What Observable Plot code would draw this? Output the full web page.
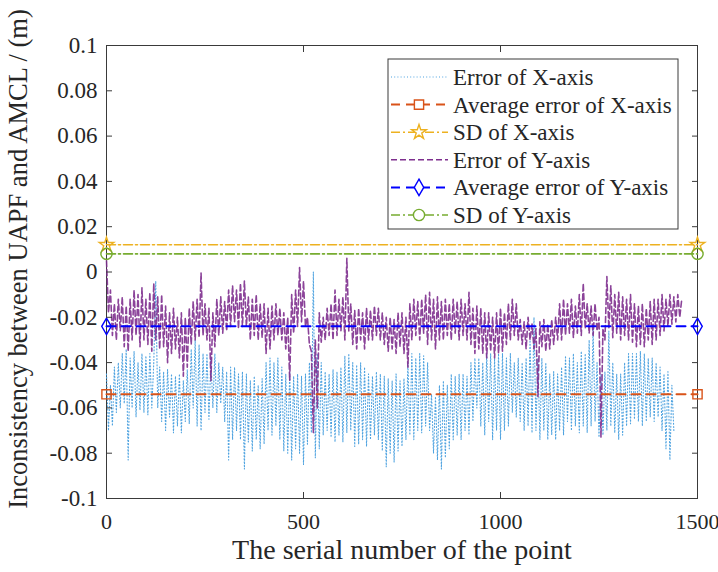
<!DOCTYPE html>
<html>
<head>
<meta charset="utf-8">
<script src="https://cdn.jsdelivr.net/npm/d3@7"></script>
<script src="https://cdn.jsdelivr.net/npm/@observablehq/plot@0.6"></script>
<style>
  html, body { margin: 0; padding: 0; background: #fff; }
  #chart { position: relative; width: 718px; height: 572px; }
</style>
</head>
<body>
<div id="chart"></div>
<script>
// ---------- data ----------
const xTicks = [0, 500, 1000, 1500];
const yTicks = [-0.1, -0.08, -0.06, -0.04, -0.02, 0, 0.02, 0.04, 0.06, 0.08, 0.1];
const sampleStep = 5; // serial-number spacing of the sampled points below

const errorX = [
  -0.045,-0.070,-0.050,-0.068,-0.042,-0.062,-0.040,-0.060,-0.036,-0.058,
  -0.034,-0.083,-0.038,-0.060,-0.035,-0.064,-0.040,-0.061,-0.036,-0.062,
  -0.037,-0.063,-0.036,-0.060,-0.040,-0.004,-0.060,-0.042,-0.066,-0.044,
  -0.070,-0.043,-0.064,-0.045,-0.071,-0.046,-0.068,-0.045,-0.071,-0.048,
  -0.066,-0.043,-0.067,-0.034,-0.060,-0.030,-0.068,-0.032,-0.070,-0.036,
  -0.062,-0.036,-0.065,-0.038,-0.060,-0.036,-0.062,-0.040,-0.058,-0.042,
  -0.066,-0.044,-0.083,-0.042,-0.074,-0.042,-0.070,-0.045,-0.074,-0.044,
  -0.087,-0.045,-0.075,-0.048,-0.079,-0.046,-0.074,-0.050,-0.078,-0.047,
  -0.076,-0.040,-0.070,-0.038,-0.072,-0.040,-0.068,-0.038,-0.074,-0.042,
  -0.079,-0.045,-0.080,-0.044,-0.083,-0.046,-0.078,-0.045,-0.080,-0.046,
  -0.085,-0.045,-0.076,-0.040,-0.071,0.000,-0.082,-0.036,-0.078,-0.040,
  -0.072,-0.044,-0.070,-0.045,-0.073,-0.043,-0.075,-0.044,-0.072,-0.042,
  -0.075,-0.037,-0.071,-0.036,-0.070,-0.040,-0.077,-0.041,-0.076,-0.040,
  -0.074,-0.042,-0.077,-0.045,-0.074,-0.046,-0.072,-0.044,-0.074,-0.045,
  -0.079,-0.046,-0.086,-0.047,-0.080,-0.048,-0.084,-0.045,-0.079,-0.048,
  -0.077,-0.047,-0.074,-0.040,-0.072,-0.036,-0.074,-0.038,-0.070,-0.036,
  -0.071,-0.037,-0.068,-0.040,-0.070,-0.054,-0.080,-0.055,-0.083,-0.050,
  -0.087,-0.048,-0.082,-0.050,-0.078,-0.045,-0.074,-0.046,-0.072,-0.045,
  -0.074,-0.045,-0.070,-0.046,-0.072,-0.040,-0.066,-0.038,-0.060,-0.038,
  -0.068,-0.040,-0.072,-0.036,-0.066,-0.036,-0.074,-0.038,-0.070,-0.036,
  -0.074,-0.036,-0.070,-0.038,-0.068,-0.036,-0.062,-0.040,-0.064,-0.038,
  -0.066,-0.040,-0.070,-0.038,-0.068,-0.030,-0.071,-0.020,-0.070,-0.038,
  -0.074,-0.038,-0.070,-0.040,-0.074,-0.045,-0.072,-0.044,-0.074,-0.045,
  -0.070,-0.042,-0.072,-0.037,-0.066,-0.038,-0.070,-0.036,-0.068,-0.040,
  -0.071,-0.035,-0.068,-0.036,-0.071,-0.030,-0.068,-0.025,-0.066,-0.040,
  -0.073,-0.045,-0.072,-0.044,-0.070,-0.026,-0.068,-0.040,-0.071,-0.045,
  -0.074,-0.045,-0.072,-0.040,-0.068,-0.036,-0.067,-0.036,-0.065,-0.036,
  -0.066,-0.035,-0.068,-0.036,-0.066,-0.038,-0.064,-0.038,-0.066,-0.040,
  -0.064,-0.042,-0.070,-0.045,-0.078,-0.044,-0.083,-0.050,-0.070
];

const errorY = [
  0.005,-0.018,-0.008,-0.028,-0.014,-0.030,-0.012,-0.026,-0.011,-0.033,
  -0.015,-0.035,-0.012,-0.030,-0.008,-0.028,-0.010,-0.033,-0.007,-0.030,
  -0.012,-0.032,-0.009,-0.035,-0.005,-0.030,-0.011,-0.034,-0.010,-0.033,
  -0.015,-0.040,-0.018,-0.036,-0.016,-0.034,-0.020,-0.038,-0.018,-0.046,
  -0.020,-0.042,-0.016,-0.032,-0.013,-0.030,-0.012,-0.029,-0.0005,-0.028,
  -0.014,-0.030,-0.016,-0.048,-0.018,-0.033,-0.012,-0.028,-0.011,-0.027,
  -0.013,-0.026,-0.008,-0.024,-0.006,-0.022,-0.008,-0.025,-0.005,-0.024,
  -0.004,-0.024,-0.011,-0.030,-0.012,-0.028,-0.010,-0.030,-0.014,-0.029,
  -0.014,-0.036,-0.016,-0.034,-0.015,-0.030,-0.014,-0.028,-0.016,-0.030,
  -0.018,-0.034,-0.020,-0.048,-0.010,-0.027,-0.008,-0.024,0.002,-0.022,
  -0.004,-0.024,-0.020,-0.032,-0.035,-0.071,-0.030,-0.060,-0.018,-0.031,
  -0.020,-0.030,-0.016,-0.028,-0.014,-0.030,-0.008,-0.028,-0.012,-0.026,
  -0.011,-0.030,0.006,-0.026,-0.014,-0.032,-0.017,-0.034,-0.016,-0.030,
  -0.018,-0.034,-0.016,-0.030,-0.017,-0.030,-0.015,-0.028,-0.016,-0.030,
  -0.018,-0.032,-0.020,-0.035,-0.020,-0.034,-0.021,-0.036,-0.018,-0.033,
  -0.018,-0.036,-0.020,-0.042,-0.014,-0.030,-0.012,-0.028,-0.013,-0.030,
  -0.012,-0.027,-0.010,-0.032,-0.009,-0.030,-0.012,-0.034,-0.011,-0.030,
  -0.013,-0.030,-0.012,-0.028,-0.014,-0.030,-0.012,-0.027,-0.013,-0.030,
  -0.012,-0.028,-0.014,-0.030,-0.009,-0.032,-0.016,-0.036,-0.015,-0.034,
  -0.016,-0.036,-0.018,-0.038,-0.018,-0.035,-0.020,-0.038,-0.018,-0.036,
  -0.016,-0.035,-0.018,-0.032,-0.014,-0.030,-0.012,-0.028,-0.014,-0.030,
  -0.021,-0.032,-0.022,-0.034,-0.020,-0.030,-0.023,-0.034,-0.025,-0.055,
  -0.022,-0.033,-0.021,-0.035,-0.023,-0.034,-0.021,-0.032,-0.020,-0.030,
  -0.014,-0.030,-0.012,-0.028,-0.014,-0.027,-0.012,-0.029,-0.015,-0.027,
  -0.010,-0.028,-0.005,-0.025,-0.014,-0.027,-0.015,-0.028,-0.014,-0.026,
  -0.020,-0.073,-0.025,-0.030,-0.002,-0.025,-0.006,-0.029,-0.010,-0.027,
  -0.009,-0.030,-0.011,-0.028,-0.012,-0.030,-0.010,-0.031,-0.014,-0.033,
  -0.015,-0.032,-0.014,-0.033,-0.016,-0.030,-0.013,-0.032,-0.012,-0.030,
  -0.012,-0.028,-0.010,-0.026,-0.012,-0.024,-0.010,-0.023,-0.011,-0.022,
  -0.010,-0.020,-0.012
];

const averageErrorX = -0.054;
const sdX = 0.012;
const averageErrorY = -0.024;
const sdY = 0.008;
const levelEnds = [0, 1500];

const seriesNames = ["Error of X-axis", "Average error of X-axis", "SD of X-axis",
                     "Error of Y-axis", "Average error of Y-axis", "SD of Y-axis"];

// ---------- styles ----------
const styles = [
  {color: "#4fa3e0", dash: "1,2.2", width: 1.1, symbol: null},
  {color: "#D95319", dash: "9,6", width: 2, symbol: "square"},
  {color: "#EDB120", dash: "9,3,2,3", width: 1.6, symbol: "star"},
  {color: "#7E2F8E", dash: "6,3", width: 1.6, symbol: null},
  {color: "#0000FF", dash: "9,6", width: 2, symbol: "diamond"},
  {color: "#77AC30", dash: "9,3,2,3", width: 1.6, symbol: "circle"}
];
const markerR = {square: 5.2, star: 4.6, diamond: 5.0, circle: 5.6};
const fontFamily = "'Liberation Serif', 'Times New Roman', serif";

const ptsX = errorX.map((v, i) => ({x: i * sampleStep, y: v}));
const ptsY = errorY.map((v, i) => ({x: i * sampleStep, y: v}));
const level = v => levelEnds.map(x => ({x, y: v}));
const levels = [null, averageErrorX, sdX, null, averageErrorY, sdY];

const fmt = d => String(+d.toFixed(2)).replace("\u2212", "-");
const axisColor = "#3a3a3a";
const textColor = "#262626";

const marks = [
  Plot.frame({stroke: axisColor, strokeWidth: 1}),
  Plot.line(ptsX, {x: "x", y: "y", stroke: styles[0].color, strokeWidth: styles[0].width, strokeDasharray: styles[0].dash}),
  Plot.line(ptsY, {x: "x", y: "y", stroke: styles[3].color, strokeWidth: styles[3].width, strokeDasharray: styles[3].dash, strokeOpacity: 0.9})
];
[1, 2, 4, 5].forEach(k => {
  const s = styles[k];
  marks.push(Plot.line(level(levels[k]), {x: "x", y: "y", stroke: s.color, strokeWidth: s.width, strokeDasharray: s.dash}));
  marks.push(Plot.dot(level(levels[k]), {x: "x", y: "y", symbol: () => s.symbol, r: markerR[s.symbol], stroke: s.color, fill: "none", strokeWidth: 1.4}));
});
// axes: inward ticks on all four sides (outward ticks shifted inside), labels on left and bottom
marks.push(
  Plot.axisX(xTicks, {anchor: "bottom", tickSize: 6, dy: -6, tickFormat: () => "", label: null, stroke: axisColor}),
  Plot.axisX(xTicks, {anchor: "top", tickSize: 6, dy: 6, tickFormat: () => "", label: null, stroke: axisColor}),
  Plot.axisY(yTicks, {anchor: "left", tickSize: 6, dx: 6, tickFormat: () => "", label: null, stroke: axisColor}),
  Plot.axisY(yTicks, {anchor: "right", tickSize: 6, dx: -6, tickFormat: () => "", label: null, stroke: axisColor}),
  Plot.axisX(xTicks, {anchor: "bottom", tickSize: 0, tickPadding: 15, tickFormat: fmt, label: null, fill: textColor, fontSize: 22}),
  Plot.axisY(yTicks, {anchor: "left", tickSize: 0, tickPadding: 9, tickFormat: fmt, label: null, fill: textColor, fontSize: 23}),
  Plot.text(["The serial number of the point"], {frameAnchor: "bottom", dy: 60, fontSize: 28, fill: textColor}),
  Plot.text(["Inconsistency between UAPF and AMCL / (m)"], {frameAnchor: "left", textAnchor: "middle", rotate: -90, dx: -88, dy: -13, fontSize: 26.5, fill: textColor})
);

const chart = Plot.plot({
  width: 718,
  height: 572,
  marginLeft: 106,
  marginRight: 21,
  marginTop: 45,
  marginBottom: 74,
  x: {domain: [0, 1500], axis: null},
  y: {domain: [-0.1, 0.1], axis: null},
  style: {fontFamily, fontSize: "23px", background: "#fff", overflow: "visible"},
  marks
});
document.getElementById("chart").appendChild(chart);

// ---------- legend ----------
const svg = d3.select(chart);
const lg = svg.append("g").attr("transform", "translate(388,59)");
lg.append("rect").attr("width", 290).attr("height", 170)
  .attr("fill", "#fff").attr("stroke", axisColor).attr("stroke-width", 1);
const symGen = {square: d3.symbolSquare, star: d3.symbolStar, diamond: d3.symbolDiamond, circle: d3.symbolCircle};
seriesNames.forEach((name, i) => {
  const s = styles[i];
  const cy = 18 + i * 27.6;
  const row = lg.append("g").attr("transform", `translate(0,${cy})`);
  row.append("line").attr("x1", 3).attr("x2", 60).attr("y1", 0).attr("y2", 0)
    .attr("stroke", s.color).attr("stroke-width", s.width).attr("stroke-dasharray", s.dash);
  if (s.symbol) {
    const r = markerR[s.symbol];
    row.append("path").attr("transform", "translate(31,0)")
      .attr("d", d3.symbol(symGen[s.symbol], Math.PI * r * r)())
      .attr("fill", "#fff").attr("stroke", s.color).attr("stroke-width", 1.4);
  }
  row.append("text").attr("x", 65).attr("y", 0).attr("dy", "0.35em")
    .attr("text-anchor", "start")
    .attr("fill", textColor).attr("font-size", 23)
    .attr("font-family", fontFamily)
    .text(name);
});
</script>
</body>
</html>
